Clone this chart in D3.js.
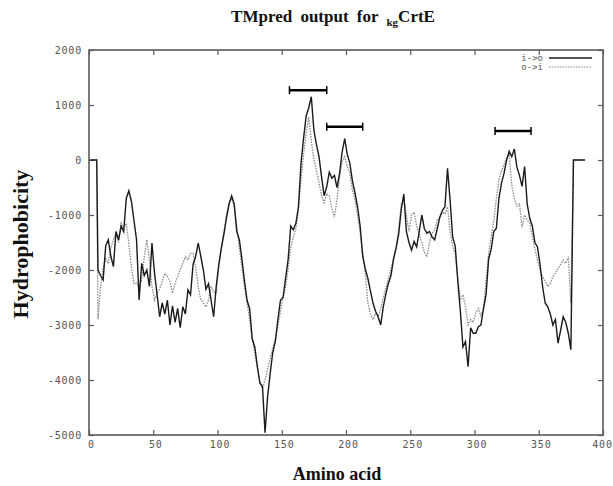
<!DOCTYPE html>
<html>
<head>
<meta charset="utf-8">
<script src="https://cdn.jsdelivr.net/npm/d3@7/dist/d3.min.js"></script>
<style>
  html, body { margin: 0; padding: 0; background: #fff; }
  svg { display: block; }
  .tick text { font-family: "DejaVu Sans Mono", "Liberation Mono", monospace; font-size: 10px; fill: #555; letter-spacing: 0.8px; }
</style>
</head>
<body>
<svg id="chart" width="613" height="486"></svg>
<script>
// ---------------- data ----------------
const xTicks = [0, 50, 100, 150, 200, 250, 300, 350, 400];
const yTicks = [-5000, -4000, -3000, -2000, -1000, 0, 1000, 2000];
const seriesNames = ["i->o", "o->i"];

// residues sampled every 2 positions (7 .. 375)
const residues = d3.range(7, 377, 2);
// zero-padded ends of the TMpred profile
const padStart = [1, 6];
const padEnd = [377, 386];

// i->o (solid)
const inToOut = [
  -2000, -2100, -2180, -1560, -1450, -1750, -1940, -1300, -1450, -1200,
  -1300,  -700,  -560,  -750, -1100, -1450, -2545, -1880, -2100, -2000,
  -2300, -1510, -2060, -2450, -2850, -2600, -2800, -2550, -3000, -2650,
  -2950, -2700, -3050, -2670, -2800, -2360, -2450, -1900, -1750, -1510,
  -1750, -2000, -2350, -2250, -2550, -2850, -2300, -1900, -1600, -1350,
  -1050,  -800,  -650,  -800, -1300, -1450, -1800, -2200, -2550, -2700,
  -3250, -3400, -3750, -4060, -4120, -4960, -4300, -3880, -3500, -3300,
  -2900, -2550, -2500, -2150, -1800, -1200, -1270, -1150,  -850,   -60,
    400,   800,   950,  1150,   545,   280,    60,  -310,  -650,  -490,
   -220,  -330,  -280,  -500,  -250,   150,   390,   100,   -60,  -380,
   -600,  -850, -1200, -1750, -1980, -2150, -2380, -2600, -2750, -2850,
  -3000, -2670, -2440, -2240, -2100, -1800, -1600, -1350,  -900,  -620,
  -1300, -1500, -1640, -1480, -1580, -1300, -1000, -1250, -1330, -1300,
  -1400, -1450, -1250, -1040,  -920,  -850,  -150,  -730, -1400, -1570,
  -2200, -2750, -3400, -3300, -3760, -3050, -3150, -3150, -3030, -3000,
  -2700, -2450, -1800, -1620, -1300, -1240,  -700,  -420,  -240,     0,
    160,    60,   200,  -130,  -280,  -480,  -120,  -800, -1060, -1200,
  -1500, -1580, -1900, -2300, -2600, -2670, -2800, -3000, -2900, -3330,
  -3100, -2850, -2950, -3150, -3450
];

// o->i (dotted)
const outToIn = [
  -2900, -2300, -1960, -1800, -1880, -1600, -1450, -1330, -1500, -1150,
  -1250, -1150, -1520, -1940, -2250, -2240, -2300, -2180, -1760, -1450,
  -1820, -2300, -2545, -2420, -2350, -2200, -2060, -2120, -2200, -2420,
  -2240, -2120, -2000, -1880, -1760, -1820, -1700, -1700, -1940, -2300,
  -2545, -2600, -2670, -2545, -2300, -2400, -2420, -1950, -1600, -1300,
  -1000,  -780,  -700,  -850, -1200, -1600, -1950, -2300, -2600, -2900,
  -3250, -3500, -3780, -4020, -4150, -4000, -3800, -3600, -3420, -3250,
  -3030, -2750, -2500, -2300, -1980, -1600, -1400, -1250,  -900,  -350,
    100,   500,   780,   350,     0,  -180,  -420,  -650,  -780,  -610,
   -650,  -880, -1040,  -720,  -300,   -30,    60,  -120,  -240,  -550,
   -730, -1000, -1330, -1700, -2060, -2600, -2800, -2900, -2790, -2850,
  -2700, -2500, -2330, -2150, -1970, -1800, -1580, -1250,  -800,  -720,
  -1000, -1300, -1000,  -950, -1200, -1350, -1500, -1680, -1760, -1500,
  -1330, -1270, -1090, -1050,  -950,  -980,  -850, -1300, -1560, -1700,
  -2150, -2545, -2450, -2670, -3000, -2900, -2950, -2780, -2700, -2830,
  -2700, -2200, -1700, -1400, -1100,  -700,  -360,  -200,   -80,    40,
     90,  -450,  -700,  -840,  -800, -1220, -1000, -1090, -1150, -1390,
  -1620, -1820, -2000, -2120, -2200, -2300, -2250, -2120, -2060, -1980,
  -1900, -1820, -1880, -1760, -2600
];

// predicted TM helix segments (start, end residue) and the level of their markers
const helixStart = [156, 185, 316];
const helixEnd = [185, 213, 344];
const helixLevel = [1270, 605, 527];

// ---------------- chart ----------------
const svg = d3.select("#chart");
const L = 89, R = 603, T = 50, B = 435;
const x = d3.scaleLinear().domain([0, 400]).range([L, R]);
const y = d3.scaleLinear().domain([-5000, 2000]).range([B, T]);
const frameColor = "#5a5a5a";

function buildSeries(vals) {
  const pts = padStart.map(r => [r, 0]);
  residues.forEach((r, i) => pts.push([r, vals[i]]));
  padEnd.forEach(r => pts.push([r, 0]));
  return pts;
}

const line = d3.line().x(d => x(d[0])).y(d => y(d[1]));

// axes
const fmt = d => String(d);
const gx = svg.append("g").attr("transform", `translate(0,${B})`)
  .call(d3.axisBottom(x).tickValues(xTicks).tickSizeInner(-5).tickSizeOuter(0).tickPadding(6).tickFormat(fmt));
gx.selectAll(".tick text").attr("dx", d => d === 400 ? -1 : 2);
const gy = svg.append("g").attr("transform", `translate(${L},0)`)
  .call(d3.axisLeft(y).tickValues(yTicks).tickSizeInner(-5).tickSizeOuter(0).tickPadding(7).tickFormat(fmt));
const gxt = svg.append("g").attr("transform", `translate(0,${T})`)
  .call(d3.axisTop(x).tickValues(xTicks).tickSizeInner(-5).tickSizeOuter(0).tickFormat(""));
const gyr = svg.append("g").attr("transform", `translate(${R},0)`)
  .call(d3.axisRight(y).tickValues(yTicks).tickSizeInner(-5).tickSizeOuter(0).tickFormat(""));
[gx, gy, gxt, gyr].forEach(g => {
  g.select(".domain").remove();
  g.selectAll(".tick line").attr("stroke", frameColor).attr("stroke-width", 1.2);
});

// frame
svg.append("rect").attr("x", L).attr("y", T).attr("width", R - L).attr("height", B - T)
  .attr("fill", "none").attr("stroke", frameColor).attr("stroke-width", 1.6);

// series
svg.append("path").datum(buildSeries(outToIn)).attr("d", line)
  .attr("fill", "none").attr("stroke", "#8a8a8a").attr("stroke-width", 1.3)
  .attr("stroke-dasharray", "1.5,1.2");
svg.append("path").datum(buildSeries(inToOut)).attr("d", line)
  .attr("fill", "none").attr("stroke", "#1a1a1a").attr("stroke-width", 1.4);

// helix markers
const helices = helixStart.map((s, i) => ({ s, e: helixEnd[i], v: helixLevel[i] }));
const hg = svg.append("g").attr("stroke", "#000").attr("stroke-width", 2.5);
hg.selectAll("line.h").data(helices).join("line")
  .attr("x1", d => x(d.s)).attr("x2", d => x(d.e)).attr("y1", d => y(d.v)).attr("y2", d => y(d.v));
hg.selectAll("line.l").data(helices).join("line").attr("stroke-width", 1.5)
  .attr("x1", d => x(d.s)).attr("x2", d => x(d.s)).attr("y1", d => y(d.v) - 4).attr("y2", d => y(d.v) + 4);
hg.selectAll("line.r").data(helices).join("line").attr("stroke-width", 1.5)
  .attr("x1", d => x(d.e)).attr("x2", d => x(d.e)).attr("y1", d => y(d.v) - 4).attr("y2", d => y(d.v) + 4);

// legend
const legend = svg.append("g");
const legY = [58, 67];
seriesNames.forEach((name, i) => {
  legend.append("text").attr("x", 543).attr("y", legY[i]).attr("dy", "0.35em")
    .attr("text-anchor", "end")
    .style("font-family", '"DejaVu Sans Mono", monospace').style("font-size", "9px")
    .style("fill", "#555").text(name);
  const l = legend.append("line").attr("x1", 549).attr("x2", 592).attr("y1", legY[i]).attr("y2", legY[i]);
  if (i === 0) l.attr("stroke", "#1a1a1a").attr("stroke-width", 1.3);
  else l.attr("stroke", "#8a8a8a").attr("stroke-width", 1.2).attr("stroke-dasharray", "1.5,1.2");
});

// titles
const title = svg.append("text").attr("x", 333).attr("y", 22).attr("text-anchor", "middle")
  .style("font-family", '"Liberation Serif", "Times New Roman", serif').style("font-weight", "bold")
  .style("font-size", "17px").style("word-spacing", "4px").style("fill", "#111");
title.append("tspan").text("TMpred output for ");
title.append("tspan").attr("dy", 4).style("font-size", "11px").text("kg");
title.append("tspan").attr("dy", -4).text("CrtE");

svg.append("text").attr("transform", "translate(28,244) rotate(-90)").attr("text-anchor", "middle")
  .style("font-family", '"Liberation Serif", "Times New Roman", serif').style("font-weight", "bold")
  .style("font-size", "22px").style("fill", "#111").text("Hydrophobicity");

svg.append("text").attr("x", 337).attr("y", 480).attr("text-anchor", "middle")
  .style("font-family", '"Liberation Serif", "Times New Roman", serif').style("font-weight", "bold")
  .style("font-size", "18px").style("fill", "#111").text("Amino acid");
</script>
</body>
</html>
